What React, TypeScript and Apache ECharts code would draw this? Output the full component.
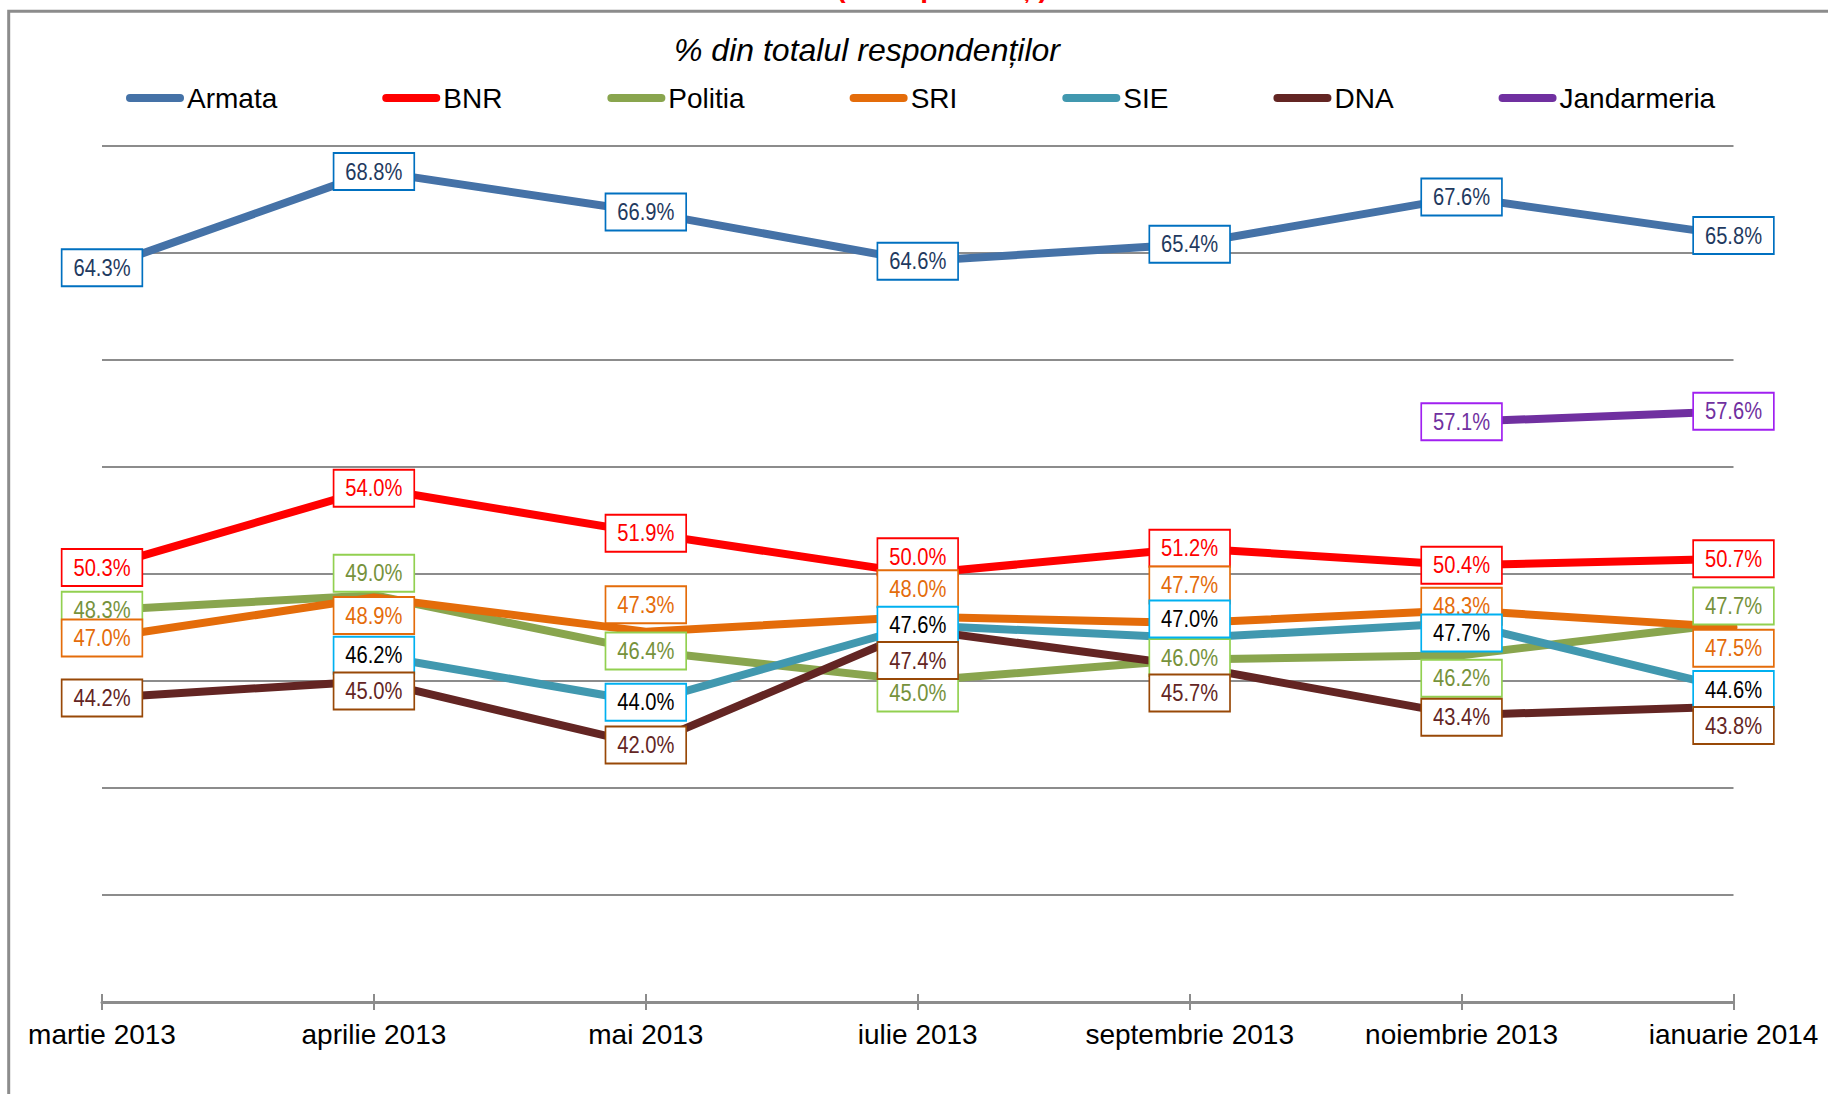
import React, { useEffect, useRef } from "react";
import * as echarts from "echarts";

const categories = [
  "martie 2013",
  "aprilie 2013",
  "mai 2013",
  "iulie 2013",
  "septembrie 2013",
  "noiembrie 2013",
  "ianuarie 2014",
];

const seriesNames = ["Armata", "BNR", "Politia", "SRI", "SIE", "DNA", "Jandarmeria"];

const armata = [64.3, 68.8, 66.9, 64.6, 65.4, 67.6, 65.8];
const bnr = [50.3, 54.0, 51.9, 50.0, 51.2, 50.4, 50.7];
const politia = [48.3, 49.0, 46.4, 45.0, 46.0, 46.2, 47.7];
const sri = [47.0, 48.9, 47.3, 48.0, 47.7, 48.3, 47.5];
const sie = [null, 46.2, 44.0, 47.6, 47.0, 47.7, 44.6];
const dna = [44.2, 45.0, 42.0, 47.4, 45.7, 43.4, 43.8];
const jandarmeria = [null, null, null, null, null, 57.1, 57.6];

const yTicks = [30, 35, 40, 45, 50, 55, 60, 65, 70];

const subtitle = "% din totalul respondenților";
const topTitle = "(% respondenți)";

// styles
const lineColors = ["#4572A7", "#FF0000", "#89A54E", "#E46C0A", "#4198AF", "#632523", "#7030A0"];
const labelTextColors = ["#1F3A60", "#FF0000", "#76923C", "#E46C0A", "#000000", "#632523", "#7030A0"];
const labelBorderColors = ["#0070C0", "#FF0000", "#92D050", "#E46C0A", "#00B0F0", "#984807", "#A020F0"];
// vertical shift (px) of each data label box from its point
const labelShift = [
  [0, 0, 0, 0, 0, 0, 0],
  [0, 0, 0, -17, 0, 0, 0],
  [0, -22, 0, 12, -2, 23, -17],
  [0, 18, -27, -28, -38, -4, 21],
  [0, 0, 0, 0, -19, 10, 0],
  [0, 10, 0, 31, 27, 2, 19],
  [0, 0, 0, 0, 0, 0, 0],
];

const allSeries = [armata, bnr, politia, sri, sie, dna, jandarmeria];

const SANS = '"Liberation Sans", Arial, sans-serif';
const GRID = "#8C8C8C";

export default function App() {
  const ref = useRef<HTMLDivElement>(null);

  useEffect(() => {
    if (!ref.current) return;
    const chart = echarts.init(ref.current, undefined, { renderer: "svg" });

    const lineSeries = allSeries.map((vals, i) => ({
      name: seriesNames[i],
      type: "line",
      data: vals.map((v) => (v === null ? "-" : v)),
      showSymbol: false,
      symbol: "none",
      connectNulls: false,
      z: 2,
      lineStyle: { color: lineColors[i], width: 8, cap: "round", join: "round" },
      itemStyle: { color: lineColors[i] },
      emphasis: { disabled: true },
    }));

    const labelSeries = allSeries.map((vals, i) => ({
      name: seriesNames[i] + " etichete",
      type: "custom",
      z: 10 + i,
      silent: true,
      data: vals
        .map((v, j) => (v === null ? null : [j, v, labelShift[i][j]]))
        .filter((d) => d !== null),
      renderItem: (params: any, api: any) => {
        const pt = api.coord([api.value(0), api.value(1)]);
        const shift = api.value(2);
        const v = api.value(1);
        return {
          type: "text",
          x: pt[0],
          y: pt[1] + shift,
          scaleX: 0.84,
          style: {
            text: Number(v).toFixed(1) + "%",
            font: "24px " + SANS,
            fill: labelTextColors[i],
            align: "center",
            verticalAlign: "middle",
            lineHeight: 27,
            backgroundColor: "#FFFFFF",
            borderColor: labelBorderColors[i],
            borderWidth: 2,
            padding: [5, 13, 3, 13],
          },
        };
      },
    }));

    chart.setOption({
      animation: false,
      backgroundColor: "#FFFFFF",
      legend: {
        data: seriesNames,
        left: 126,
        top: 84,
        padding: 0,
        itemGap: 105,
        itemWidth: 58,
        itemHeight: 8,
        icon: "path://M4,0 H54 A4,4 0 0 1 54,8 H4 A4,4 0 0 1 4,0 Z",
        itemStyle: { borderWidth: 0 },
        textStyle: { fontFamily: SANS, fontSize: 28, color: "#000000", lineHeight: 28, padding: [0, 0, 0, -2] },
        selectedMode: false,
      },
      grid: { left: 102, right: 94.5, top: 145.7, bottom: 92, containLabel: false },
      xAxis: [
        {
          type: "category",
          data: categories,
          boundaryGap: false,
          position: "bottom",
          axisLine: { show: true, lineStyle: { color: GRID, width: 3 } },
          axisTick: { show: true, length: 8, lineStyle: { color: GRID, width: 2 } },
          axisLabel: { color: "#000000", fontFamily: SANS, fontSize: 28, margin: 18 },
          splitLine: { show: false },
        },
        {
          type: "category",
          data: categories,
          boundaryGap: false,
          position: "bottom",
          axisLine: { show: false },
          axisTick: { show: true, inside: true, length: 8, lineStyle: { color: GRID, width: 2 } },
          axisLabel: { show: false },
          splitLine: { show: false },
        },
      ],
      yAxis: {
        type: "value",
        min: yTicks[0],
        max: yTicks[yTicks.length - 1],
        interval: yTicks[1] - yTicks[0],
        axisLine: { show: false },
        axisTick: { show: false },
        axisLabel: { show: false },
        splitLine: { show: true, lineStyle: { color: GRID, width: 2 } },
      },
      graphic: [
        {
          type: "rect",
          shape: { x: 8.7, y: 11.3, width: 3000, height: 3000 },
          style: { fill: "none", stroke: GRID, lineWidth: 3 },
          silent: true,
          z: 0,
        },
        {
          type: "text",
          x: 942,
          y: -13,
          style: {
            text: topTitle,
            fill: "#FF0000",
            font: "bold 28px " + SANS,
            textAlign: "center",
            textVerticalAlign: "middle",
          },
          silent: true,
        },
        {
          type: "text",
          x: 867,
          y: 50,
          style: {
            text: subtitle,
            fill: "#000000",
            font: "italic 32px " + SANS,
            textAlign: "center",
            textVerticalAlign: "middle",
          },
          silent: true,
        },
      ],
      series: [...lineSeries, ...labelSeries],
    });

    return () => chart.dispose();
  }, []);

  return (
    <div
      ref={ref}
      style={{ position: "fixed", left: 0, top: 0, width: 1828, height: 1094, background: "#fff" }}
    />
  );
}
